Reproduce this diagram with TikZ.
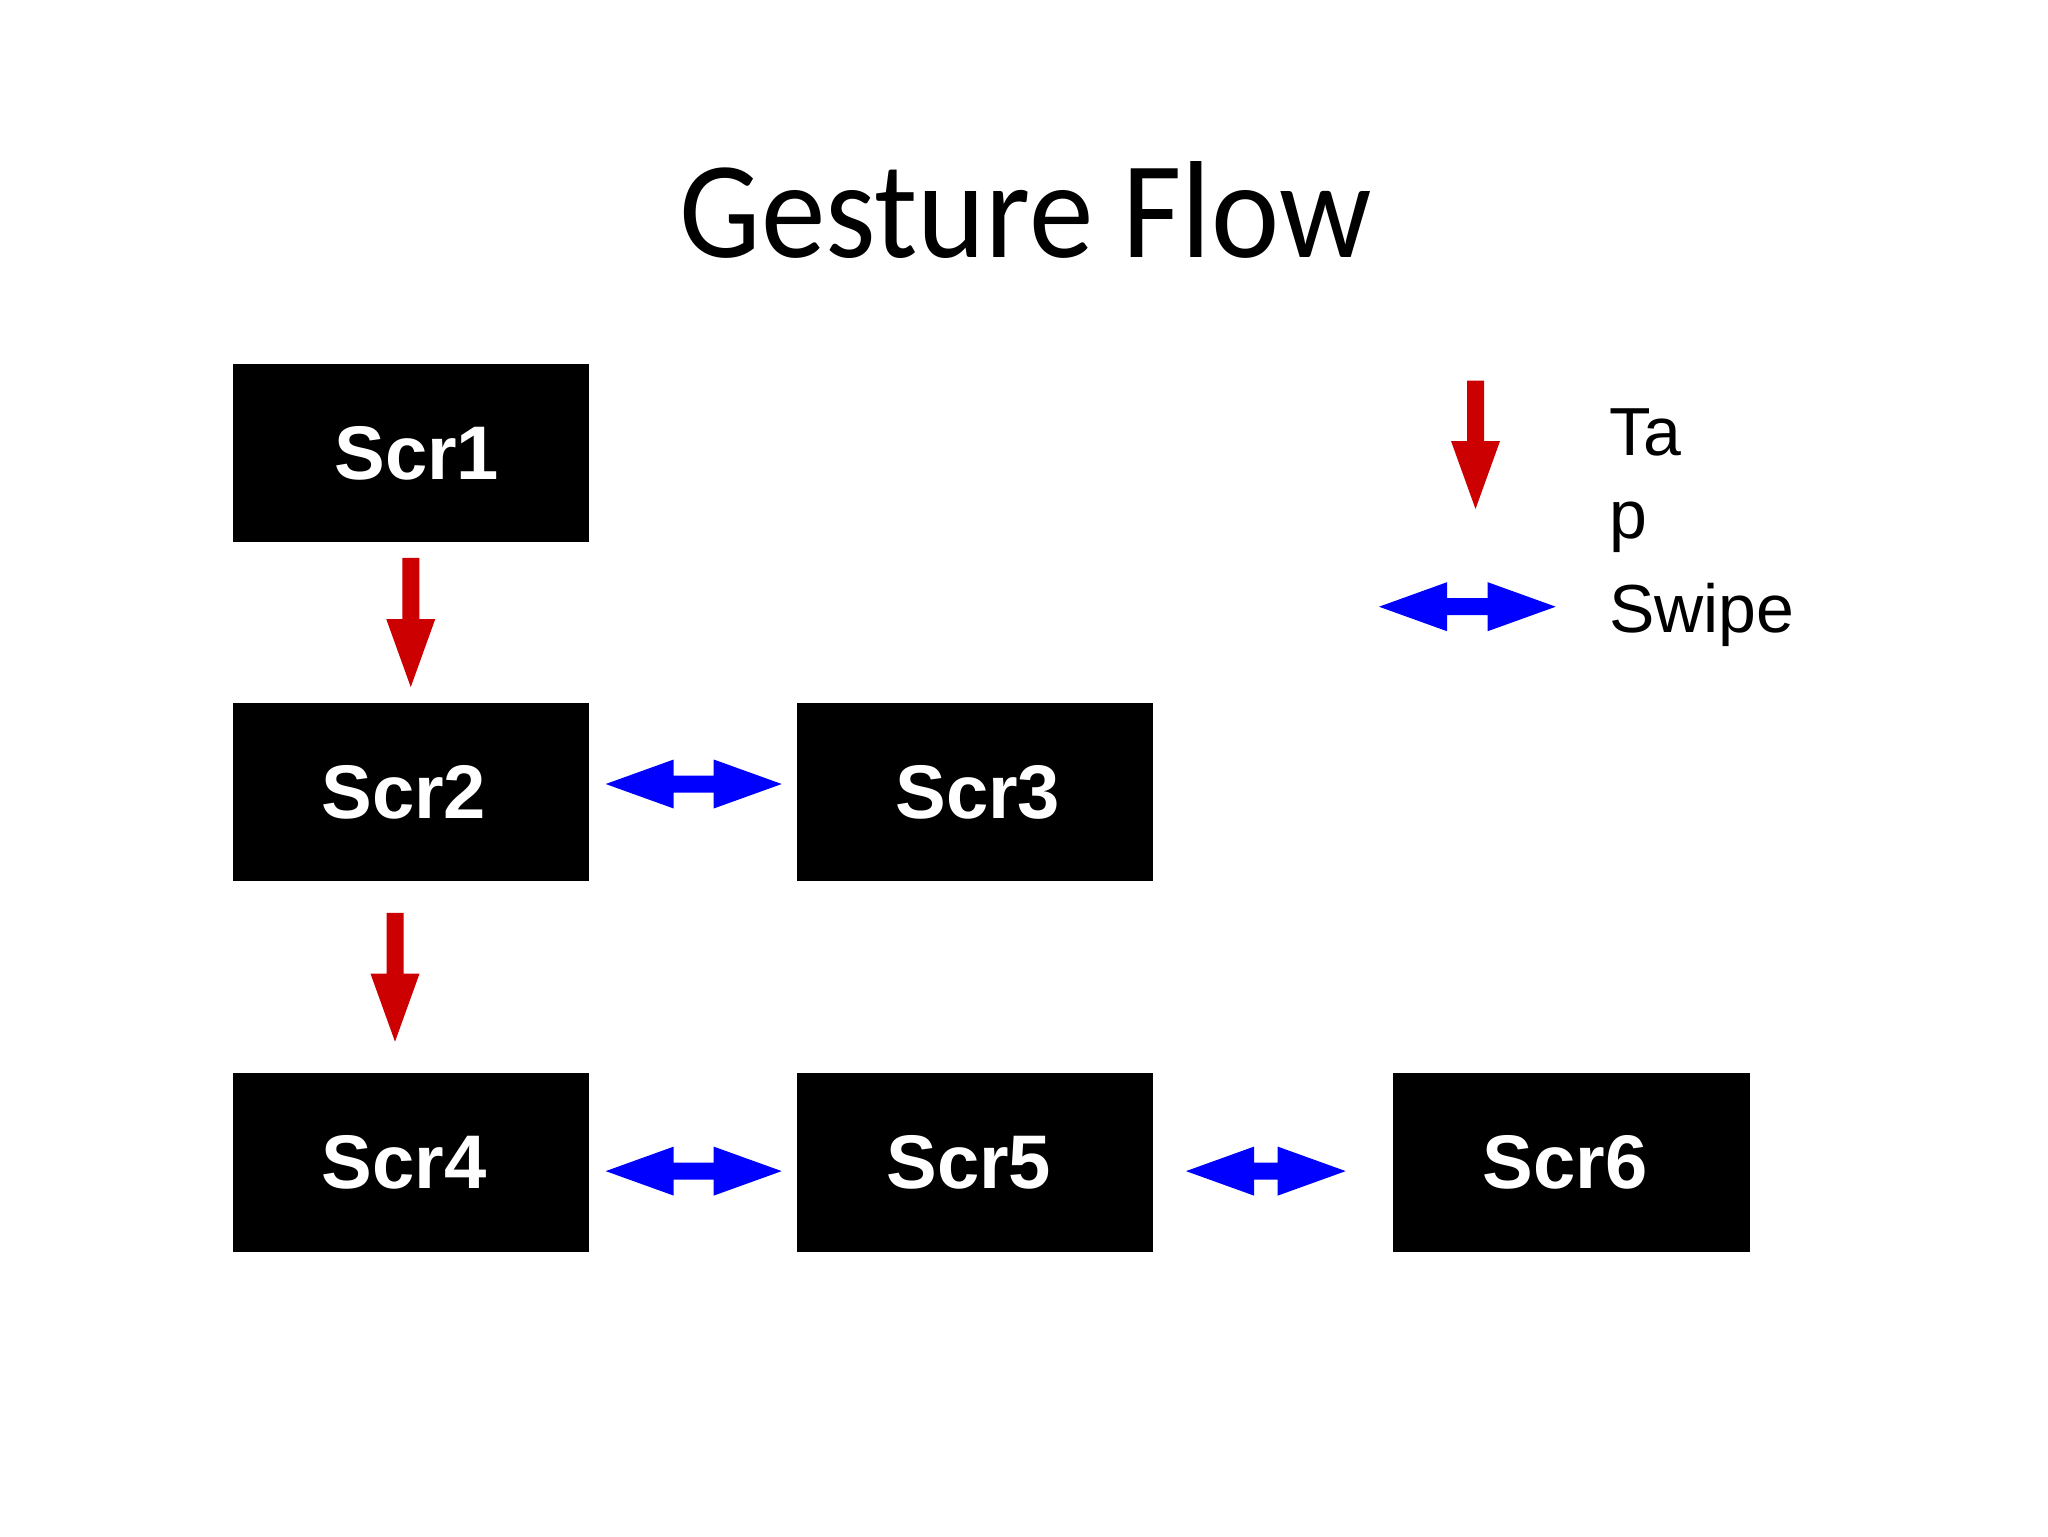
\documentclass[tikz,border=0pt]{standalone}
\usepackage{fontspec}
\setmainfont{Liberation Sans}
\newfontfamily\titlefont{Carlito}
\usetikzlibrary{calc}
\definecolor{tapred}{RGB}{204,0,0}
\definecolor{swipeblue}{RGB}{0,0,255}
\newcommand{\tapArrow}[2]{%
  \fill[tapred] ($(#1)+(-8.5,0)$) -- ($(#1)+(8.5,0)$) -- ($(#2)+(8.5,-68)$) -- ($(#2)+(24.5,-68)$) -- (#2) -- ($(#2)+(-24.5,-68)$) -- ($(#2)+(-8.5,-68)$) -- cycle;}
\newcommand{\swipeArrow}[2]{%
  \fill[swipeblue] (#1) -- ($(#1)+(68,-24.5)$) -- ($(#1)+(68,-8.5)$) -- ($(#2)+(-68,-8.5)$) -- ($(#2)+(-68,-24.5)$) -- (#2) -- ($(#2)+(-68,24.5)$) -- ($(#2)+(-68,8.5)$) -- ($(#1)+(68,8.5)$) -- ($(#1)+(68,24.5)$) -- cycle;}
\tikzset{
  screen/.style={fill=black, draw=none, minimum width=178.25pt, minimum height=89.25pt, inner sep=0pt, outer sep=0pt},
  scrlabel/.style={text=white, font=\fontsize{38pt}{44pt}\selectfont\bfseries, inner sep=0pt},
  legendtext/.style={font=\fontsize{34pt}{40pt}\selectfont, anchor=base west, inner sep=0pt},
}
\begin{document}
\begin{tikzpicture}[x=0.5pt, y=-0.5pt]
\useasboundingbox (0,0) rectangle (2048,1536);
\fill[white] (0,0) rectangle (2048,1536);

% title
\node[font=\titlefont\fontsize{64.6pt}{72pt}\selectfont, anchor=base, inner sep=0pt] (title) at (1025.5,257.3) {\scalebox{1}[1.07]{Gesture Flow}};

% screens
\node[screen] (s1) at (410.75,453.2) {};
\node[screen] (s2) at (410.75,792.1) {};
\node[screen] (s3) at (974.8,792.1) {};
\node[screen] (s4) at (410.75,1162.6) {};
\node[screen] (s5) at (974.8,1162.6) {};
\node[screen] (s6) at (1571.7,1162.6) {};

\node[scrlabel] (l1) at ($(s1)+(6,0)$) {Scr1};
\node[scrlabel] (l2) at ($(s2)+(-7,0)$) {Scr2};
\node[scrlabel] (l3) at ($(s3)+(3,0)$) {Scr3};
\node[scrlabel] (l4) at ($(s4)+(-6.5,0)$) {Scr4};
\node[scrlabel] (l5) at ($(s5)+(-6,0)$) {Scr5};
\node[scrlabel] (l6) at ($(s6)+(-6.5,0)$) {Scr6};

% tap connectors
\coordinate (t1a) at ($(s1.south)+(0,15.3)$);
\coordinate (t1b) at ($(s2.north)+(0,-15.8)$);
\tapArrow{t1a}{t1b}
\coordinate (t2a) at ($(s2.south)+(-15.75,31.4)$);
\coordinate (t2b) at ($(s4.north)+(-15.75,-31.7)$);
\tapArrow{t2a}{t2b}

% swipe connectors
\coordinate (w1a) at ($(s2.east)+(16.7,-8.1)$);
\coordinate (w1b) at ($(s3.west)+(-14.85,-8.1)$);
\swipeArrow{w1a}{w1b}
\coordinate (w2a) at ($(s4.east)+(16.7,8.5)$);
\coordinate (w2b) at ($(s5.west)+(-14.85,8.5)$);
\swipeArrow{w2a}{w2b}
\coordinate (w3a) at ($(s5.east)+(32.95,8.5)$);
\coordinate (w3b) at ($(s6.west)+(-47.75,8.5)$);
\swipeArrow{w3a}{w3b}

% legend
\coordinate (lga) at (1475.5,380.7);
\coordinate (lgb) at (1475.5,509);
\tapArrow{lga}{lgb}
\coordinate (lsa) at (1379,606.7);
\coordinate (lsb) at (1555.7,606.7);
\swipeArrow{lsa}{lsb}
\node[legendtext] (tap1) at (1609,455) {Ta};
\node[legendtext] (tap2) at (1609,538) {p};
\node[legendtext] (swipe) at (1609,632) {Swipe};
\end{tikzpicture}
\end{document}
